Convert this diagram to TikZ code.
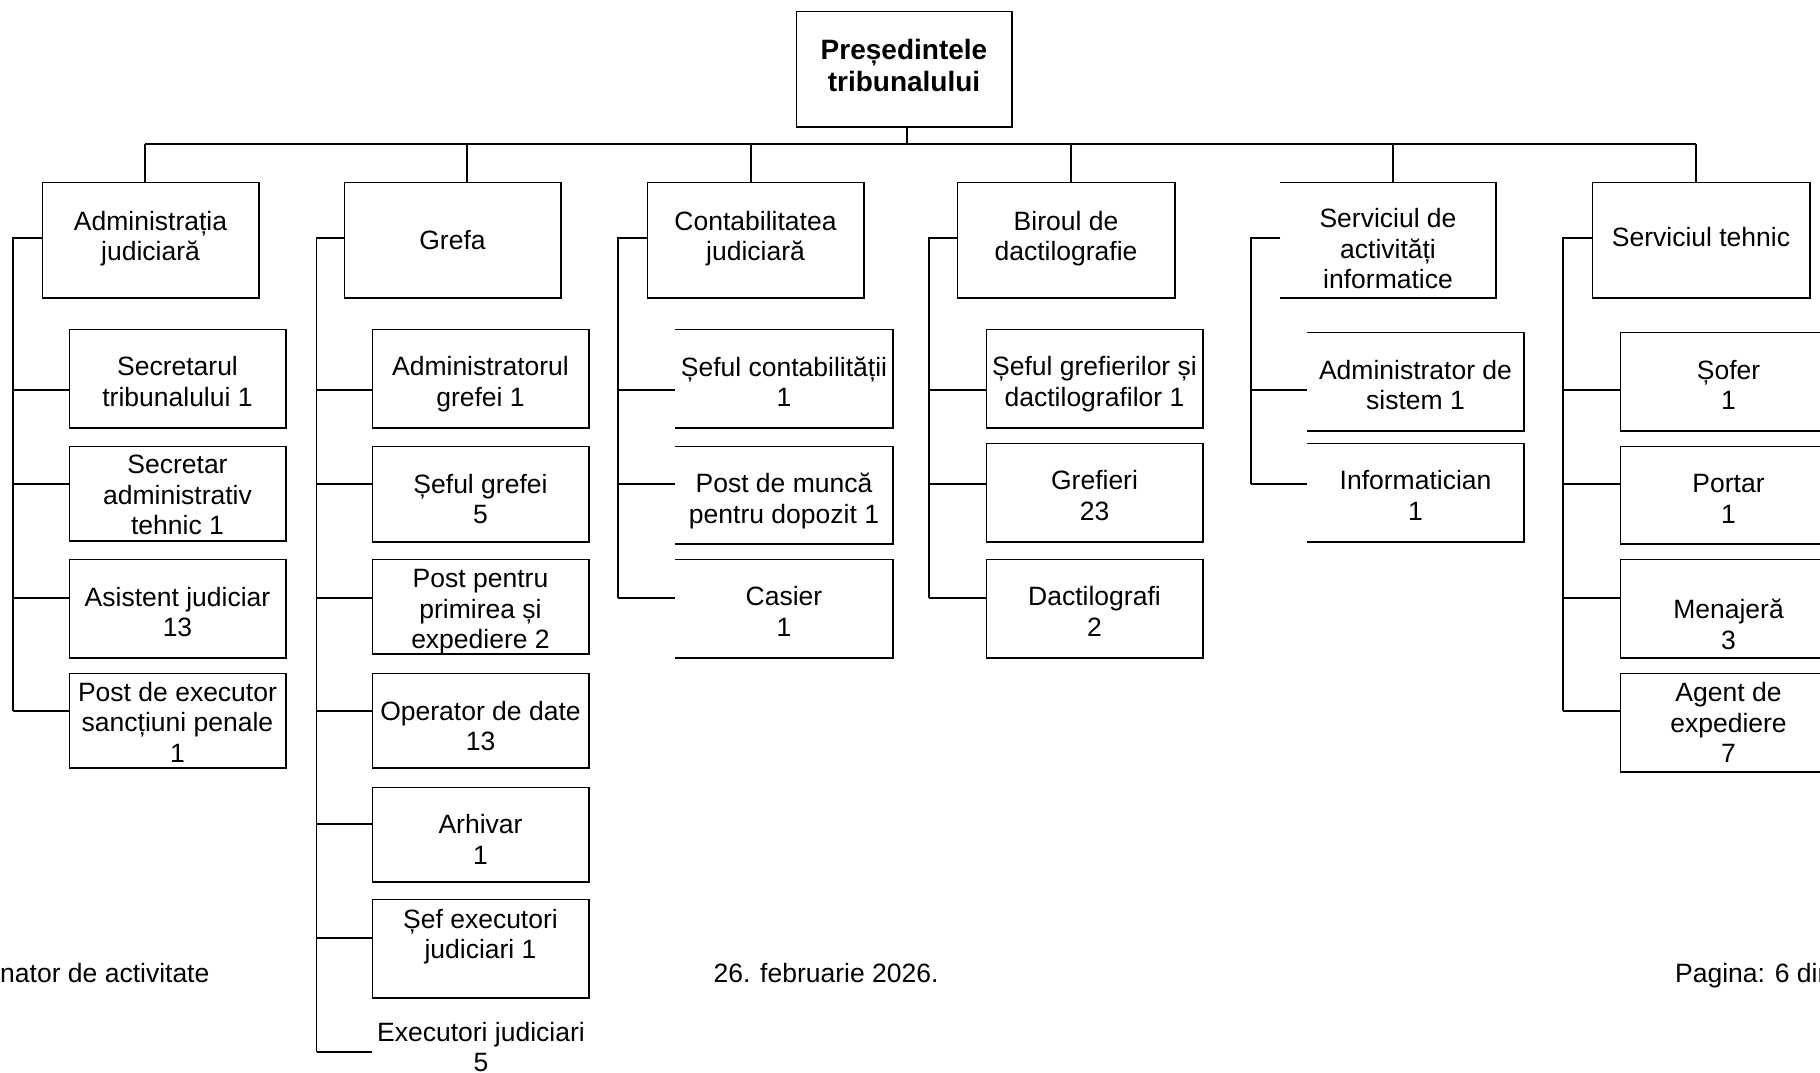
\documentclass[tikz,border=0pt]{standalone}
\usepackage{fontspec}
\setmainfont{Liberation Sans}
\usetikzlibrary{calc}
\tikzset{
  conn/.style={line width=1.8pt},
  boxnode/.style={draw=none, inner sep=0pt, outer sep=0pt},
  thinedge/.style={line width=1pt, draw=black},
  thickedge/.style={line width=2.4pt, draw=black},
  txt/.style={align=center, inner sep=0pt, font=\fontsize{26.5}{30.5}\selectfont},
  boldtxt/.style={align=center, inner sep=0pt, font=\bfseries\fontsize{28}{32}\selectfont},
}
% box with full border: name, x1, y1, x2, y2, dy, text
\newcommand\obox[7]{%
  \node[boxnode, minimum width={#4-#2}, minimum height={#5-#3}, anchor=north west] (#1) at (#2,#3) {};
  \draw[thinedge] (#1.south west) -- (#1.north west) -- (#1.north east);
  \draw[thickedge] (#1.north east) -- (#1.south east) -- (#1.south west);
  \node[txt] (#1-t) at ($(#1.center)+(0,#6)$) {#7};}
% box whose left edge is not drawn
\newcommand\oboxnl[7]{%
  \node[boxnode, minimum width={#4-#2}, minimum height={#5-#3}, anchor=north west] (#1) at (#2,#3) {};
  \draw[thinedge] (#1.north west) -- (#1.north east);
  \draw[thickedge] (#1.north east) -- (#1.south east) -- (#1.south west);
  \node[txt] (#1-t) at ($(#1.center)+(0,#6)$) {#7};}
% branch from a vertical line at x to a child at y
\newcommand\branch[4]{%
  \coordinate (#1) at (#2,#3);
  \draw[conn] (#1) -- (#1 -| #4.west);}
\begin{document}
\begin{tikzpicture}[x=1pt,y=-1pt]
\useasboundingbox (0,0) rectangle (1820,1072);
\clip (0,0) rectangle (1820,1072);
\fill[white] (0,0) rectangle (1820,1072);

% top
\node[boxnode, minimum width=216, minimum height=116, anchor=north west] (pres) at (796,11) {};
\draw[thinedge] (pres.south west) -- (pres.north west) -- (pres.north east);
\draw[thickedge] (pres.north east) -- (pres.south east) -- (pres.south west);
\node[boldtxt] (pres-t) at ($(pres.center)+(0,-4)$) {Președintele\\tribunalului};

% level 1
\obox{adm}{42}{182}{259}{298}{-1.5}{Administrația\\judiciară}
\obox{gre}{344}{182}{561}{298}{0}{Grefa}
\obox{con}{647}{182}{864}{298}{-1.5}{Contabilitatea\\judiciară}
\obox{bir}{957}{182}{1175}{298}{-1.5}{Biroul de\\dactilografie}
\oboxnl{sav}{1280}{182}{1496}{298}{9}{Serviciul de\\activități\\informatice}
\obox{teh}{1592}{182}{1810}{298}{-3}{Serviciul tehnic}

% bus
\coordinate (busL) at (145,144);
\coordinate (busR) at (1696,144);
\coordinate (presD) at (907,144);
\draw[conn] (busL) -- (busR);
\draw[conn] (presD |- pres.south) -- (presD);
\coordinate (d1) at (145,144);
\coordinate (d2) at (467,144);
\coordinate (d3) at (751,144);
\coordinate (d4) at (1071,144);
\coordinate (d5) at (1393,144);
\coordinate (d6) at (1696,144);
\draw[conn] (d1) -- (d1 |- adm.north);
\draw[conn] (d2) -- (d2 |- gre.north);
\draw[conn] (d3) -- (d3 |- con.north);
\draw[conn] (d4) -- (d4 |- bir.north);
\draw[conn] (d5) -- (d5 |- sav.north);
\draw[conn] (d6) -- (d6 |- teh.north);

% Administratia column
\obox{a1}{69}{329}{286}{428}{3}{Secretarul\\tribunalului 1}
\obox{a2}{69}{446}{286}{541}{1.5}{Secretar\\administrativ\\tehnic 1}
\obox{a3}{69}{559}{286}{658}{3.5}{Asistent judiciar\\13}
\obox{a4}{69}{673}{286}{768}{1.5}{Post de executor\\sancțiuni penale\\1}
\coordinate (admL) at (13,238);
\coordinate (admE) at (13,711);
\draw[conn] (admL -| adm.west) -- (admL) -- (admE);
\branch{ab1}{13}{390}{a1}
\branch{ab2}{13}{484}{a2}
\branch{ab3}{13}{598}{a3}
\branch{ab4}{13}{711}{a4}

% Grefa column
\obox{g1}{372}{329}{589}{428}{5.5}{Administratorul\\grefei 1}
\obox{g2}{372}{446}{589}{542}{5}{Șeful grefei\\5}
\obox{g3}{372}{559}{589}{654}{5.5}{Post pentru\\primirea și\\expediere 2}
\obox{g4}{372}{673}{589}{768}{5.5}{Operator de date\\13}
\obox{g5}{372}{787}{589}{882}{5}{Arhivar\\1}
\obox{g6}{372}{899}{589}{998}{-12}{Șef executori\\judiciari 1}
\node[txt, anchor=north] (g7) at (481,1022) {Executori judiciari\\5};
\coordinate (greL) at (316.5,238);
\coordinate (greE) at (316.5,1052);
\draw[conn] (greL -| gre.west) -- (greL) -- (greE);
\branch{gb1}{316.5}{390}{g1}
\branch{gb2}{316.5}{484}{g2}
\branch{gb3}{316.5}{598}{g3}
\branch{gb4}{316.5}{711}{g4}
\branch{gb5}{316.5}{824}{g5}
\branch{gb6}{316.5}{938}{g6}
\branch{gb7}{316.5}{1052}{g6}

% Contabilitatea column
\oboxnl{c1}{675}{329}{893}{428}{3}{Șeful contabilității\\1}
\oboxnl{c2}{675}{446}{893}{544}{6}{Post de muncă\\pentru dopozit 1}
\oboxnl{c3}{675}{559}{893}{658}{3}{Casier\\1}
\coordinate (conL) at (618,238);
\coordinate (conE) at (618,598);
\draw[conn] (conL -| con.west) -- (conL) -- (conE);
\branch{cb1}{618}{390}{c1}
\branch{cb2}{618}{484}{c2}
\branch{cb3}{618}{598}{c3}

% Biroul column
\obox{b1}{986}{329}{1203}{428}{5.5}{Șeful grefierilor și\\dactilografilor 1}
\obox{b2}{986}{443}{1203}{542}{3}{Grefieri\\23}
\obox{b3}{986}{559}{1203}{658}{3}{Dactilografi\\2}
\coordinate (birL) at (929,238);
\coordinate (birE) at (929,598);
\draw[conn] (birL -| bir.west) -- (birL) -- (birE);
\branch{bb1}{929}{390}{b1}
\branch{bb2}{929}{484}{b2}
\branch{bb3}{929}{598}{b3}

% Serviciul de activitati informatice column
\oboxnl{s1}{1307}{332}{1524}{431}{3.5}{Administrator de\\sistem 1}
\oboxnl{s2}{1307}{443}{1524}{542}{3}{Informatician\\1}
\coordinate (savL) at (1251,238);
\coordinate (savE) at (1251,484);
\draw[conn] (savL -| sav.west) -- (savL) -- (savE);
\branch{sb1}{1251}{390}{s1}
\branch{sb2}{1251}{484}{s2}

% Serviciul tehnic column
\obox{t1}{1620}{332}{1837}{431}{3.5}{Șofer\\1}
\obox{t2}{1620}{446}{1837}{544}{4}{Portar\\1}
\obox{t3}{1620}{559}{1837}{658}{16}{Menajeră\\3}
\obox{t4}{1620}{673}{1837}{772}{0}{Agent de\\expediere\\7}
\coordinate (tehL) at (1563,238);
\coordinate (tehE) at (1563,711);
\draw[conn] (tehL -| teh.west) -- (tehL) -- (tehE);
\branch{tb1}{1563}{390}{t1}
\branch{tb2}{1563}{484}{t2}
\branch{tb3}{1563}{598}{t3}
\branch{tb4}{1563}{711}{t4}

% footer
\node[txt, anchor=base west] (f1) at (0,982) {nator de activitate};
\node[txt, anchor=base] (f2) at (826,982) {26. februarie 2026.};
\node[txt, anchor=base west] (f3) at (1675,982) {Pagina: 6 din};
\end{tikzpicture}
\end{document}
